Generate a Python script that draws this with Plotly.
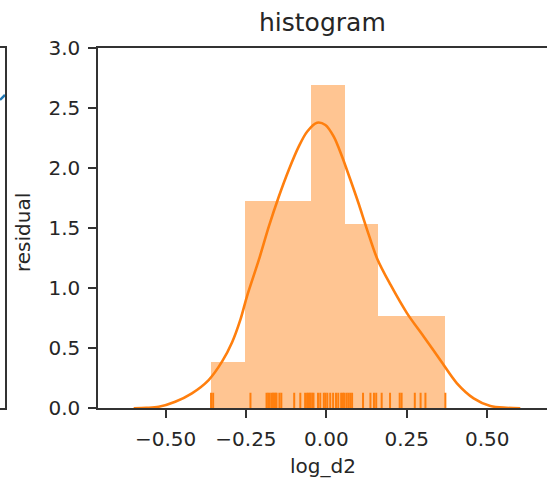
import numpy as np
import plotly.graph_objects as go

# ---------------- data ----------------
log_d2 = [
    -0.3585, -0.352,
    -0.236, -0.186, -0.181, -0.176, -0.170, -0.166, -0.162, -0.158, -0.155,
    -0.146, -0.140, -0.100, -0.081, -0.066, -0.060, -0.056, -0.052, -0.049,
    -0.044, -0.040, -0.026, -0.019, -0.008, -0.003, 0.003, 0.012, 0.021,
    0.030, 0.037, 0.046, 0.051, 0.055,
    0.062, 0.068, 0.074, 0.080, 0.114, 0.137, 0.148, 0.155,
    0.172, 0.198, 0.228, 0.234,
    0.275, 0.293, 0.308, 0.370,
]
n_bins = 7

kde_x = [-0.599, -0.560, -0.521, -0.470, -0.418, -0.366, -0.324, -0.293, -0.267,
         -0.247, -0.210, -0.179, -0.148, -0.117, -0.086, -0.060, -0.029, -0.003,
         0.023, 0.049, 0.075, 0.100, 0.127, 0.158, 0.199, 0.251, 0.303, 0.354,
         0.406, 0.458, 0.510, 0.560, 0.603]
kde_y = [0.0, 0.004, 0.013, 0.055, 0.125, 0.235, 0.39, 0.55, 0.74,
         0.93, 1.234, 1.511, 1.760, 1.983, 2.177, 2.301, 2.376, 2.357,
         2.260, 2.093, 1.899, 1.706, 1.483, 1.245, 1.030, 0.790, 0.596, 0.402,
         0.208, 0.083, 0.019, 0.004, 0.0]

x_tick_vals = [-0.50, -0.25, 0.00, 0.25, 0.50]
x_tick_labels = ["\u22120.50", "\u22120.25", "0.00", "0.25", "0.50"]
y_tick_vals = [0.0, 0.5, 1.0, 1.5, 2.0, 2.5, 3.0]
y_tick_labels = ["0.0", "0.5", "1.0", "1.5", "2.0", "2.5", "3.0"]

# fragment of the neighbouring subplot visible at the left edge
frag_x = [0.0, 1.0]
frag_y = [0.855, 0.869]

title_text = "histogram"
x_label = "log_d2"
y_label = "residual"

# ---------------- layout constants ----------------
W, H = 548, 483
AX_L, AX_R, AX_T, AX_B = 98.0, 547.0, 47.7, 408.3
FRAG_R = 5.0
ORANGE = "#ff7f0e"
BLUE = "#1f77b4"
SPINE = "#333333"
TXT = "#262626"
FONT = "DejaVu Sans"
RUG_H = 0.13

x_dom = [AX_L / W, AX_R / W]
y_dom = [1 - AX_B / H, 1 - AX_T / H]

# histogram (density) computed from the data
dens, edges = np.histogram(np.array(log_d2), bins=n_bins, density=True)
centers = (edges[:-1] + edges[1:]) / 2
widths = np.diff(edges)

rug_x, rug_y = [], []
for v in log_d2:
    rug_x += [v, v, None]
    rug_y += [0, RUG_H, None]

fig = go.Figure()
fig.add_trace(go.Bar(
    x=centers, y=dens, width=widths,
    marker=dict(color="rgba(255,127,14,0.45)", line=dict(width=0)),
    xaxis="x", yaxis="y", showlegend=False, hoverinfo="skip",
))
fig.add_trace(go.Scatter(
    x=rug_x, y=rug_y, mode="lines",
    line=dict(color=ORANGE, width=2),
    xaxis="x", yaxis="y", showlegend=False, hoverinfo="skip",
))
fig.add_trace(go.Scatter(
    x=kde_x, y=kde_y, mode="lines",
    line=dict(color=ORANGE, width=2.6, shape="spline", smoothing=0.9),
    xaxis="x", yaxis="y", showlegend=False,
))
fig.add_trace(go.Scatter(
    x=frag_x, y=frag_y, mode="lines",
    line=dict(color=BLUE, width=2.5),
    xaxis="x2", yaxis="y2", showlegend=False, hoverinfo="skip",
))

axis_common = dict(
    showgrid=False, zeroline=False, showline=True, linecolor=SPINE, linewidth=1.5,
    ticks="outside", ticklen=8, tickwidth=1.5, tickcolor=SPINE, automargin=False,
    tickfont=dict(family=FONT, size=20, color=TXT),
)

fig.update_layout(
    template="none",
    width=W, height=H,
    margin=dict(l=0, r=0, t=0, b=0, pad=0),
    paper_bgcolor="white", plot_bgcolor="white",
    bargap=0, showlegend=False,
    xaxis=dict(domain=x_dom, range=[-0.710, 0.686], tickvals=x_tick_vals,
               ticktext=x_tick_labels, mirror=True, anchor="y",
               ticklabelstandoff=4, **axis_common),
    yaxis=dict(domain=y_dom, range=[0, 3.0], tickvals=y_tick_vals,
               ticktext=y_tick_labels, anchor="x", ticklabelstandoff=4,
               **axis_common),
    xaxis2=dict(domain=[0, FRAG_R / W], range=[0, 1], showgrid=False, zeroline=False,
                showline=True, linecolor=SPINE, linewidth=1.5, mirror=True,
                showticklabels=False, ticks="", anchor="y2", automargin=False),
    yaxis2=dict(domain=y_dom, range=[0, 1], showgrid=False, zeroline=False,
                showline=True, linecolor=SPINE, linewidth=1.5, side="right",
                showticklabels=False, ticks="", anchor="x2", automargin=False),
    annotations=[
        dict(text=title_text, x=322.5 / W, y=1 - 22 / H, xref="paper", yref="paper",
             xanchor="center", yanchor="middle", showarrow=False,
             font=dict(family=FONT, size=25, color=TXT)),
        dict(text=x_label, x=322.5 / W, y=1 - 466 / H, xref="paper", yref="paper",
             xanchor="center", yanchor="middle", showarrow=False,
             font=dict(family=FONT, size=20, color=TXT)),
        dict(text=y_label, x=23 / W, y=1 - 233 / H, xref="paper", yref="paper",
             xanchor="center", yanchor="middle", showarrow=False, textangle=-90,
             font=dict(family=FONT, size=20, color=TXT)),
    ],
)

fig.write_html("out.html")
